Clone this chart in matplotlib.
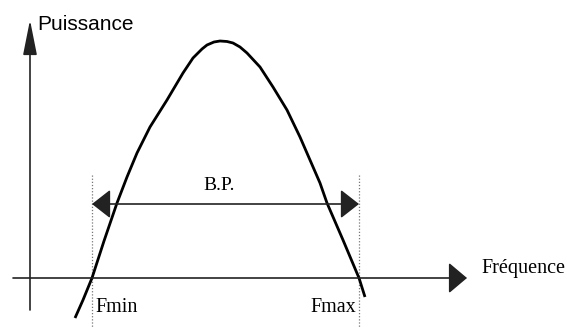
import matplotlib
matplotlib.use('Agg')
import matplotlib.pyplot as plt

# curve (origin = axes crossing, y up)
freq = [45, 53, 62, 74, 87, 97, 107, 120, 137, 153, 163, 172, 177, 184, 190,
        197, 203, 210, 217, 230, 243, 257, 270, 280, 290, 297, 313, 329, 335]
power = [-40, -22, 0, 37, 75, 101, 125, 151, 178, 205, 220, 229, 233, 236, 237,
         236.5, 235, 231, 225, 211, 191, 168, 141, 118, 95, 75, 38, 0, -19]

fmin = 62
fmax = 329
labels = ['Fmin', 'Fmax']
bp_label = 'B.P.'
ylabel = 'Puissance'
xlabel = 'Fréquence'

fig = plt.figure(figsize=(5.67, 3.27), dpi=100)
ax = fig.add_axes([0, 0, 1, 1])
ax.set_xlim(-30, 537)
ax.set_ylim(-49, 278)
ax.axis('off')

axcol = '#222222'
# axes with arrows
ax.annotate('', xy=(437, 0), xytext=(-17, 0),
            arrowprops=dict(arrowstyle='-|>,head_length=11.5,head_width=9.7',
                            mutation_scale=1, color=axcol, lw=1.2,
                            shrinkA=0, shrinkB=0))
ax.annotate('', xy=(0, 258), xytext=(0, -32),
            arrowprops=dict(arrowstyle='-|>,head_length=21.6,head_width=4.3',
                            mutation_scale=1, color=axcol, lw=1.2,
                            shrinkA=0, shrinkB=0))

# dotted limits
for f in [fmin, fmax]:
    ax.plot([f, f], [103, -49], color='#777777', lw=0.9, ls=(0, (1, 1.5)))

# band arrow
ax.annotate('', xy=(fmax, 74), xytext=(fmin, 74),
            arrowprops=dict(arrowstyle='<|-|>,head_length=11.5,head_width=9',
                            mutation_scale=1, color=axcol, lw=1.2,
                            shrinkA=0, shrinkB=0))

ax.plot(freq, power, color='black', lw=2, solid_capstyle='butt', solid_joinstyle='round')

serif = 'Liberation Serif'
ax.text(7, 248, ylabel, family='Liberation Sans', fontsize=15, va='baseline')
ax.text(451, 5, xlabel, family=serif, fontsize=14.5, va='baseline')
ax.text(fmin + 3, -34, labels[0], family=serif, fontsize=14.5, va='baseline')
ax.text(fmax - 3, -34, labels[1], family=serif, fontsize=14.5, va='baseline', ha='right')
ax.text((fmin + fmax) / 2 - 6, 88, bp_label, family=serif, fontsize=14, va='baseline', ha='center')

fig.savefig('out.png', dpi=100)
